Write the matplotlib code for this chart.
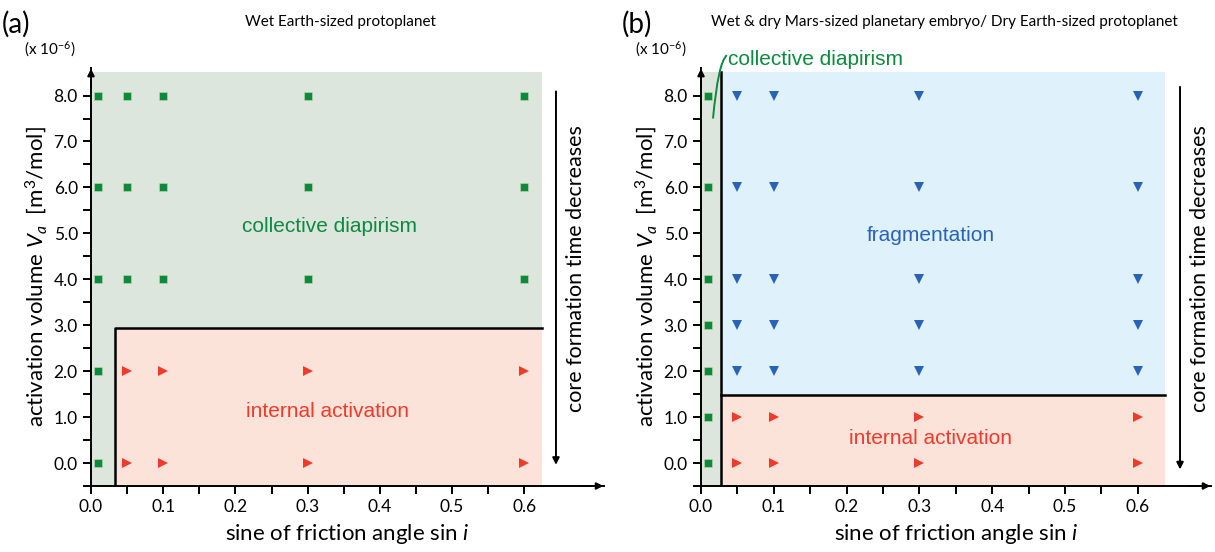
import numpy as np
import matplotlib
matplotlib.use('Agg')
import matplotlib.pyplot as plt
from matplotlib.path import Path
from matplotlib.patches import PathPatch

plt.rcParams['font.family'] = ['Lato', 'DejaVu Sans']
plt.rcParams['mathtext.fontset'] = 'custom'
plt.rcParams['mathtext.rm'] = 'Lato'
plt.rcParams['mathtext.it'] = 'Lato:italic'

# data (x = sin i, y = activation volume x 1e-6)
xa_green = [0.01, 0.01, 0.01, 0.01, 0.01,
            0.05, 0.05, 0.05, 0.1, 0.1, 0.1, 0.3, 0.3, 0.3, 0.6, 0.6, 0.6]
ya_green = [8, 6, 4, 2, 0,
            8, 6, 4, 8, 6, 4, 8, 6, 4, 8, 6, 4]
xa_red = [0.05, 0.05, 0.1, 0.1, 0.3, 0.3, 0.6, 0.6]
ya_red = [2, 0, 2, 0, 2, 0, 2, 0]

xb_green = [0.01] * 7
yb_green = [8, 6, 4, 3, 2, 1, 0]
xb_blue = [0.05] * 5 + [0.1] * 5 + [0.3] * 5 + [0.6] * 5
yb_blue = [8, 6, 4, 3, 2] * 4
xb_red = [0.05, 0.05, 0.1, 0.1, 0.3, 0.3, 0.6, 0.6]
yb_red = [1, 0, 1, 0, 1, 0, 1, 0]

xticks = [0.0, 0.1, 0.2, 0.3, 0.4, 0.5, 0.6]
yticks = [0, 1, 2, 3, 4, 5, 6, 7, 8]

GREEN_BG = '#dde6dd'
PINK_BG = '#fce3d9'
BLUE_BG = '#dff1fa'
GREEN = '#0c8a40'
RED = '#f23a2a'
BLUE = '#2a63b6'

fig = plt.figure(figsize=(12.15, 5.52), dpi=100)
W, H = 1215., 552.


def make_axes(left_px, xmax, scale):
    width = xmax * scale
    ax = fig.add_axes([left_px / W, (H - 486) / H, width / W, (486 - 68) / H])
    ax.set_xlim(0, xmax)
    ax.set_ylim(-0.5, 8.6)
    ax.spines['top'].set_visible(False)
    ax.spines['right'].set_visible(False)
    ax.spines['left'].set_linewidth(1.4)
    ax.spines['bottom'].set_linewidth(1.4)
    ax.set_xticks(xticks)
    ax.set_xticklabels(['%.1f' % v for v in xticks])
    ax.set_xticks(np.arange(0.05, 0.65, 0.1), minor=True)
    ax.set_yticks(yticks)
    ax.set_yticklabels(['%.1f' % v for v in yticks])
    ax.set_yticks(np.arange(-0.5, 8.5, 1.0), minor=True)
    ax.tick_params(which='both', length=6, width=1.4, labelsize=12.5)
    ax.patch.set_alpha(0)
    # axis arrows
    ax.annotate('', xy=(0, 1.005), xytext=(0, 0.95), xycoords='axes fraction',
                arrowprops=dict(arrowstyle='-|>', color='k', lw=1.4, mutation_scale=10))
    ax.annotate('', xy=(1.005, 0), xytext=(0.95, 0), xycoords='axes fraction',
                arrowprops=dict(arrowstyle='-|>', color='k', lw=1.4, mutation_scale=10))
    ax.set_xlabel('sine of friction angle sin $i$', fontsize=16, labelpad=5)
    ax.set_ylabel('activation volume $V_a$  [m$^3$/mol]', fontsize=16, labelpad=3)
    ax.text(-0.13, 1.045, r'(x 10$^{-6}$)', transform=ax.transAxes, fontsize=11,
            ha='left', va='center')
    return ax


# panel (a)
ax1 = make_axes(91, 0.71, 722)
ax1.fill_between([0, 0.625], -0.5, 8.52, color=GREEN_BG, lw=0, zorder=0)
ax1.fill_between([0.033, 0.625], -0.5, 2.95, color=PINK_BG, lw=0, zorder=0)
ax1.plot([0.033, 0.033, 0.625], [-0.5, 2.95, 2.95], color='k', lw=1.8, zorder=1)
ax1.plot(xa_green, ya_green, 's', color=GREEN, ms=5.5, mec='#c8d8a0', mew=0.4, ls='none', zorder=3)
ax1.plot(xa_red, ya_red, '>', color=RED, ms=7, mew=0, ls='none', zorder=3)
ax1.text(0.331, 5.15, 'collective diapirism', color=GREEN, fontsize=15,
         family='Liberation Sans', ha='center', va='center')
ax1.text(0.327, 1.13, 'internal activation', color=RED, fontsize=15,
         family='Liberation Sans', ha='center', va='center')
ax1.annotate('', xy=(0.644, -0.1), xytext=(0.644, 8.15),
             arrowprops=dict(arrowstyle='-|>', color='k', lw=1.4, mutation_scale=10))
ax1.text(0.672, 4.24, 'core formation time decreases', rotation=90, fontsize=15.5,
         ha='center', va='center')
ax1.text(-0.175, 1.105, '(a)', transform=ax1.transAxes, fontsize=20, ha='left', va='center')
ax1.text(340 / W, 1 - 22 / H, 'Wet Earth-sized protoplanet', transform=fig.transFigure,
         fontsize=11, ha='center', va='center')

# panel (b)
ax2 = make_axes(701, 0.70, 728)
ax2.fill_between([0, 0.028], -0.5, 8.52, color=GREEN_BG, lw=0, zorder=0)
ax2.fill_between([0.028, 0.637], 1.48, 8.52, color=BLUE_BG, lw=0, zorder=0)
ax2.fill_between([0.028, 0.637], -0.5, 1.48, color=PINK_BG, lw=0, zorder=0)
ax2.plot([0.028, 0.028], [-0.5, 8.52], color='k', lw=1.8, zorder=1)
ax2.plot([0.028, 0.637], [1.48, 1.48], color='k', lw=1.8, zorder=1)
ax2.plot(xb_green, yb_green, 's', color=GREEN, ms=5.5, mec='#c8d8a0', mew=0.4, ls='none', zorder=3)
ax2.plot(xb_blue, yb_blue, 'v', color=BLUE, ms=7.5, mew=0, ls='none', zorder=3)
ax2.plot(xb_red, yb_red, '>', color=RED, ms=7, mew=0, ls='none', zorder=3)
ax2.text(0.315, 4.96, 'fragmentation', color=BLUE, fontsize=15,
         family='Liberation Sans', ha='center', va='center')
ax2.text(0.315, 0.54, 'internal activation', color=RED, fontsize=15,
         family='Liberation Sans', ha='center', va='center')
ax2.text(0.037, 8.78, 'collective diapirism', color=GREEN, fontsize=15,
         family='Liberation Sans', ha='left', va='center', clip_on=False)
# leader line from the narrow green strip to its label
leader = Path([(0.0165, 7.5), (0.0235, 8.72), (0.0355, 8.88)],
              [Path.MOVETO, Path.CURVE3, Path.CURVE3])
ax2.add_patch(PathPatch(leader, fc='none', ec=GREEN, lw=1.4, clip_on=False, zorder=4))
ax2.annotate('', xy=(0.658, -0.2), xytext=(0.658, 8.25),
             arrowprops=dict(arrowstyle='-|>', color='k', lw=1.4, mutation_scale=10),
             annotation_clip=False)
ax2.text(0.686, 4.24, 'core formation time decreases', rotation=90, fontsize=15.5,
         ha='center', va='center', clip_on=False)
ax2.text(-0.155, 1.105, '(b)', transform=ax2.transAxes, fontsize=20, ha='left', va='center')
ax2.text(944 / W, 1 - 22 / H, 'Wet & dry Mars-sized planetary embryo/ Dry Earth-sized protoplanet',
         transform=fig.transFigure, fontsize=11, ha='center', va='center')

fig.savefig('out.png', dpi=100)
